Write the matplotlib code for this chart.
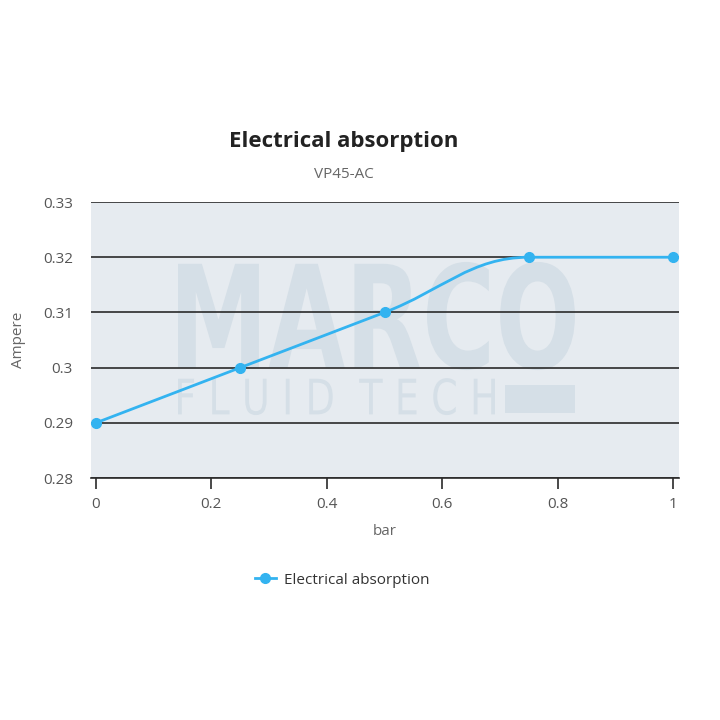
import numpy as np
import matplotlib.pyplot as plt
from matplotlib.path import Path
from matplotlib.patches import PathPatch
from matplotlib.lines import Line2D
from matplotlib.textpath import TextPath
from matplotlib.font_manager import FontProperties
from matplotlib.transforms import Affine2D

plt.rcParams['font.family'] = ['Open Sans', 'DejaVu Sans']

# data
pressure_bar = [0, 0.25, 0.5, 0.75, 1]
current_amp = [0.29, 0.30, 0.31, 0.32, 0.32]
x_ticks = [0, 0.2, 0.4, 0.6, 0.8, 1]
x_tick_labels = ['0', '0.2', '0.4', '0.6', '0.8', '1']
y_ticks = [0.28, 0.29, 0.30, 0.31, 0.32, 0.33]
y_tick_labels = ['0.28', '0.29', '0.3', '0.31', '0.32', '0.33']
series_name = 'Electrical absorption'

line_color = '#33b3f0'
bg_color = '#e6ebf0'
mark_color = '#d5dfe7'


def spline_path(xs, ys, smoothing=1.5):
    # bezier control points like a highcharts "spline" series
    n = len(xs)
    left = [None] * n
    right = [None] * n
    denom = smoothing + 1
    for i in range(1, n - 1):
        px, py = xs[i], ys[i]
        lx, ly = xs[i - 1], ys[i - 1]
        nx, ny = xs[i + 1], ys[i + 1]
        lcx = (smoothing * px + lx) / denom
        lcy = (smoothing * py + ly) / denom
        rcx = (smoothing * px + nx) / denom
        rcy = (smoothing * py + ny) / denom
        corr = (rcy - lcy) * (rcx - px) / (rcx - lcx) + py - rcy
        lcy += corr
        rcy += corr
        if lcy > ly and lcy > py:
            lcy = max(ly, py)
            rcy = 2 * py - lcy
        elif lcy < ly and lcy < py:
            lcy = min(ly, py)
            rcy = 2 * py - lcy
        if rcy > ny and rcy > py:
            rcy = max(ny, py)
            lcy = 2 * py - rcy
        elif rcy < ny and rcy < py:
            rcy = min(ny, py)
            lcy = 2 * py - rcy
        left[i] = (lcx, lcy)
        right[i] = (rcx, rcy)
    verts = [(xs[0], ys[0])]
    codes = [Path.MOVETO]
    for i in range(1, n):
        c1 = right[i - 1] if right[i - 1] else (xs[i - 1], ys[i - 1])
        c2 = left[i] if left[i] else (xs[i], ys[i])
        verts += [c1, c2, (xs[i], ys[i])]
        codes += [Path.CURVE4] * 3
    return Path(verts, codes)


def watermark(ax, text, x0, x1, y0, y1, weight='bold'):
    # stretch a text outline into a box given in axes fractions
    tp = TextPath((0, 0), text, size=10, prop=FontProperties(family='DejaVu Sans', weight=weight))
    ext = tp.get_extents()
    tr = (Affine2D().translate(-ext.x0, -ext.y0)
          .scale((x1 - x0) / ext.width, (y1 - y0) / ext.height)
          .translate(x0, y0))
    ax.add_patch(PathPatch(tr.transform_path(tp), transform=ax.transAxes,
                           facecolor=mark_color, edgecolor='none', zorder=0.5))


fig = plt.figure(figsize=(7.2, 7.2), dpi=100)
ax = fig.add_axes([0.1264, 0.3361, 0.8167, 0.3833])
ax.set_facecolor(bg_color)

ax.set_xlim(-0.0087, 1.0104)
ax.set_ylim(0.28, 0.33)

watermark(ax, 'MARCO', 0.148, 0.823, 0.391, 0.783)
watermark(ax, 'F L U I D  T E C H', 0.148, 0.687, 0.228, 0.362, weight='normal')
ax.add_patch(plt.Rectangle((0.704, 0.236), 0.119, 0.101, transform=ax.transAxes,
                           color=mark_color, lw=0, zorder=0.5))

ax.set_yticks(y_ticks)
ax.set_yticklabels(y_tick_labels)
ax.set_xticks(x_ticks)
ax.set_xticklabels(x_tick_labels)
ax.grid(axis='y', color='#2a2a2a', lw=1.2, zorder=1)
ax.set_axisbelow(True)
for s in ['top', 'right', 'left']:
    ax.spines[s].set_visible(False)
ax.spines['bottom'].set_color('#2a2a2a')
ax.spines['bottom'].set_linewidth(1.2)
ax.tick_params(axis='y', length=0, pad=13, labelsize=11, labelcolor='#555555')
ax.tick_params(axis='x', direction='out', length=8, width=1.2, color='#2a2a2a',
               pad=6, labelsize=11, labelcolor='#555555')

ax.add_patch(PathPatch(spline_path(pressure_bar, current_amp), fill=False,
                       edgecolor=line_color, lw=2, zorder=3, clip_on=False))
ax.plot(pressure_bar, current_amp, 'o', color=line_color, ms=7, zorder=4, clip_on=False)

ax.set_xlabel('bar', fontsize=11, color='#666666', labelpad=8)
ax.set_ylabel('Ampere', fontsize=11, color='#666666', labelpad=12)

fig.text(0.478, 0.804, 'Electrical absorption', ha='center', va='center',
         fontsize=16, fontweight='bold', color='#222222')
fig.text(0.478, 0.758, 'VP45-AC', ha='center', va='center', fontsize=11, color='#666666')

handle = Line2D([], [], color=line_color, lw=2, marker='o', ms=7)
fig.legend([handle], [series_name], loc='center', bbox_to_anchor=(0.475, 0.194),
           frameon=False, fontsize=11, handlelength=1.4, handletextpad=0.5,
           labelcolor='#333333')

fig.savefig('out.png', dpi=100, facecolor='white')
